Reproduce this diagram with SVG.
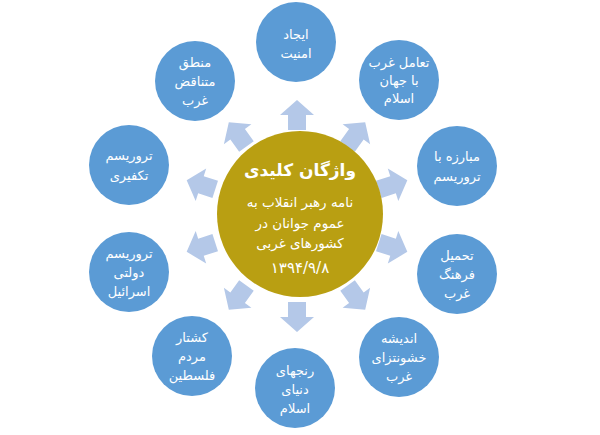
<svg xmlns="http://www.w3.org/2000/svg" width="600" height="435" viewBox="0 0 600 435">
<defs>
<style>
.node{fill:#5b9bd5;}
.arrow{fill:#b4c8e8;}
.t{font-family:"DejaVu Sans",sans-serif;font-size:13px;fill:#ffffff;text-anchor:middle;dominant-baseline:central;}
.c{font-family:"DejaVu Sans",sans-serif;font-size:13.5px;fill:#ffffff;text-anchor:middle;dominant-baseline:central;}
.d{font-family:"DejaVu Sans",sans-serif;font-size:15px;letter-spacing:2px;fill:#ffffff;text-anchor:middle;dominant-baseline:central;}
.title{font-family:"DejaVu Sans",sans-serif;font-size:17px;font-weight:bold;fill:#ffffff;text-anchor:middle;dominant-baseline:central;}
</style>
<path id="arr" d="M-9,0 L-9,-15 L-17,-15 L0,-30 L17,-15 L9,-15 L9,0 Z"/>
</defs>
<rect width="600" height="435" fill="#ffffff"/>
<g id="connectors" class="arrow">
<use href="#arr" transform="translate(297,216) rotate(0) translate(0,-86)"/>
<use href="#arr" transform="translate(297,216) rotate(36) translate(0,-86)"/>
<use href="#arr" transform="translate(297,216) rotate(72) translate(0,-86)"/>
<use href="#arr" transform="translate(297,216) rotate(108) translate(0,-86)"/>
<use href="#arr" transform="translate(297,216) rotate(144) translate(0,-86)"/>
<use href="#arr" transform="translate(297,216) rotate(180) translate(0,-86)"/>
<use href="#arr" transform="translate(297,216) rotate(216) translate(0,-86)"/>
<use href="#arr" transform="translate(297,216) rotate(252) translate(0,-86)"/>
<use href="#arr" transform="translate(297,216) rotate(288) translate(0,-86)"/>
<use href="#arr" transform="translate(297,216) rotate(324) translate(0,-86)"/>
</g>
<g id="center">
<circle cx="300" cy="214" r="83" fill="#b99f12"/>
<text class="title" x="300" y="170">واژگان کلیدی</text>
<text class="c" x="300" y="202">نامه رهبر انقلاب به</text>
<text class="c" x="300" y="223">عموم جوانان در</text>
<text class="c" x="300" y="243">کشورهای غربی</text>
<text class="d" x="300" y="268">۱۳۹۴/۹/۸</text>
</g>
<g id="n1">
<circle class="node" cx="296" cy="42" r="40"/>
<text class="t" x="296" y="34">ایجاد</text>
<text class="t" x="296" y="53">امنیت</text>
</g>
<g id="n2">
<circle class="node" cx="399" cy="80" r="40"/>
<text class="t" x="399" y="62">تعامل غرب</text>
<text class="t" x="399" y="80">با جهان</text>
<text class="t" x="399" y="98">اسلام</text>
</g>
<g id="n3">
<circle class="node" cx="457" cy="166" r="40"/>
<text class="t" x="457" y="156">مبارزه با</text>
<text class="t" x="457" y="176">تروریسم</text>
</g>
<g id="n4">
<circle class="node" cx="457" cy="274" r="40"/>
<text class="t" x="457" y="255">تحمیل</text>
<text class="t" x="457" y="274">فرهنگ</text>
<text class="t" x="457" y="293">غرب</text>
</g>
<g id="n5">
<circle class="node" cx="399" cy="357" r="40"/>
<text class="t" x="399" y="338">اندیشه</text>
<text class="t" x="399" y="357">خشونتزای</text>
<text class="t" x="399" y="376">غرب</text>
</g>
<g id="n6">
<circle class="node" cx="295" cy="388" r="40"/>
<text class="t" x="295" y="370">رنجهای</text>
<text class="t" x="295" y="389">دنیای</text>
<text class="t" x="295" y="408">اسلام</text>
</g>
<g id="n7">
<circle class="node" cx="192" cy="356" r="40"/>
<text class="t" x="192" y="337">کشتار</text>
<text class="t" x="192" y="356">مردم</text>
<text class="t" x="192" y="375">فلسطین</text>
</g>
<g id="n8">
<circle class="node" cx="129" cy="272" r="40"/>
<text class="t" x="129" y="253">تروریسم</text>
<text class="t" x="129" y="272">دولتی</text>
<text class="t" x="129" y="291">اسرائیل</text>
</g>
<g id="n9">
<circle class="node" cx="129" cy="165" r="40"/>
<text class="t" x="129" y="155">تروریسم</text>
<text class="t" x="129" y="175">تکفیری</text>
</g>
<g id="n10">
<circle class="node" cx="195" cy="81" r="40"/>
<text class="t" x="195" y="62">منطق</text>
<text class="t" x="195" y="81">متناقض</text>
<text class="t" x="195" y="100">غرب</text>
</g>
</svg>
